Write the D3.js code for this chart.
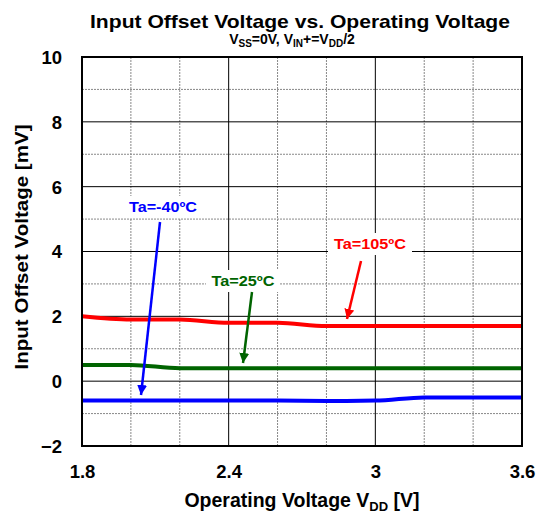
<!DOCTYPE html>
<html><head><meta charset="utf-8">
<script src="https://cdn.jsdelivr.net/npm/d3@7"></script>
<style>body{margin:0;background:#fff}text{font-family:"Liberation Sans",Arial,sans-serif;font-weight:bold}</style>
</head><body><svg id="c" width="539" height="513"></svg>
<script>
const vdd = [1.8, 2.0, 2.2, 2.4, 2.6, 2.8, 3.0, 3.2, 3.4, 3.6];
const ta105 = [2.0, 1.9, 1.9, 1.8, 1.8, 1.7, 1.7, 1.7, 1.7, 1.7];
const ta25 = [0.5, 0.5, 0.4, 0.4, 0.4, 0.4, 0.4, 0.4, 0.4, 0.4];
const taM40 = [-0.6, -0.6, -0.6, -0.6, -0.6, -0.61, -0.6, -0.5, -0.5, -0.5];
const xTicks = [1.8, 2.4, 3.0, 3.6];
const xTickLabels = ["1.8", "2.4", "3", "3.6"];
const xMinor = [2.0, 2.2, 2.6, 2.8, 3.2, 3.4];
const yTicks = [-2, 0, 2, 4, 6, 8, 10];
const yMinor = [-1, 1, 3, 5, 7, 9];

const svg = d3.select("#c");
const L = 82, R = 522, T = 57, B = 446;
const x = d3.scaleLinear().domain([1.8, 3.6]).range([L, R]);
const y = d3.scaleLinear().domain([-2, 10]).range([B, T]);

// minor grid
svg.append("g").selectAll("line").data(yMinor).join("line")
  .attr("x1", L).attr("x2", R).attr("y1", d => y(d)).attr("y2", d => y(d))
  .attr("stroke", "#888").attr("stroke-width", 1).attr("stroke-dasharray", "2,1");
svg.append("g").selectAll("line").data(xMinor).join("line")
  .attr("y1", T).attr("y2", B).attr("x1", d => x(d)).attr("x2", d => x(d))
  .attr("stroke", "#888").attr("stroke-width", 1).attr("stroke-dasharray", "2,1");
// major grid
svg.append("g").selectAll("line").data(yTicks).join("line")
  .attr("x1", L).attr("x2", R).attr("y1", d => y(d)).attr("y2", d => y(d))
  .attr("stroke", "#000").attr("stroke-width", 1);
svg.append("g").selectAll("line").data(xTicks).join("line")
  .attr("y1", T).attr("y2", B).attr("x1", d => x(d)).attr("x2", d => x(d))
  .attr("stroke", "#000").attr("stroke-width", 1);

// axes labels
const yAxis = d3.axisLeft(y).tickValues(yTicks).tickSize(0).tickPadding(20);
const gy = svg.append("g").attr("transform", `translate(${L},0)`).call(yAxis);
gy.select(".domain").remove();
gy.selectAll("text").attr("font-size", 18.5).attr("fill", "#000").attr("dy", "0.35em");
const xAxis = d3.axisBottom(x).tickValues(xTicks).tickSize(0).tickPadding(19)
  .tickFormat((d, i) => xTickLabels[i]);
const gx = svg.append("g").attr("transform", `translate(0,${B})`).call(xAxis);
gx.select(".domain").remove();
gx.selectAll("text").attr("font-size", 18.5).attr("fill", "#000").attr("dy", "0.7em");

// series
const line = d3.line().x((d, i) => x(vdd[i])).y(d => y(d)).curve(d3.curveMonotoneX);
[[ta105, "#ff0000"], [ta25, "#006400"], [taM40, "#0000ff"]].forEach(([s, c]) => {
  svg.append("path").attr("d", line(s)).attr("fill", "none").attr("stroke", c)
    .attr("stroke-width", 4);
});

// frame
svg.append("rect").attr("x", L).attr("y", T).attr("width", R - L).attr("height", B - T)
  .attr("fill", "none").attr("stroke", "#000").attr("stroke-width", 2);

// annotations
const defs = svg.append("defs");
function marker(id, c) {
  defs.append("marker").attr("id", id).attr("viewBox", "0 0 10 10").attr("refX", 10).attr("refY", 5)
    .attr("markerWidth", 4).attr("markerHeight", 4).attr("orient", "auto")
    .append("path").attr("d", "M0,0L10,5L0,10z").attr("fill", c);
}
const ann = [
  {t: "Ta=-40ºC", c: "#0000ff", tx: 163, ty: 212, w: 80, len: 68, x1: 160, y1: 222, x2: 141, y2: 395},
  {t: "Ta=25ºC", c: "#006400", tx: 243, ty: 286, w: 74, len: 63, x1: 252, y1: 292, x2: 243, y2: 363},
  {t: "Ta=105ºC", c: "#ff0000", tx: 370, ty: 249, w: 84, len: 72, x1: 361, y1: 261, x2: 347, y2: 319}
];
ann.forEach((a, i) => {
  marker("m" + i, a.c);
  svg.append("rect").attr("x", a.tx - a.w / 2).attr("y", a.ty - 16).attr("width", a.w).attr("height", 22).attr("fill", "#fff");
  svg.append("text").attr("x", a.tx).attr("y", a.ty).attr("text-anchor", "middle")
    .attr("font-size", 14.5).attr("fill", a.c).attr("textLength", a.len)
    .attr("lengthAdjust", "spacingAndGlyphs").text(a.t);
  svg.append("line").attr("x1", a.x1).attr("y1", a.y1).attr("x2", a.x2).attr("y2", a.y2)
    .attr("stroke", a.c).attr("stroke-width", 2.5).attr("marker-end", `url(#m${i})`);
});

// titles
svg.append("text").attr("x", 300).attr("y", 28).attr("text-anchor", "middle").attr("font-size", 19)
  .attr("textLength", 420).attr("lengthAdjust", "spacingAndGlyphs")
  .text("Input Offset Voltage vs. Operating Voltage");
const st = svg.append("text").attr("x", 292).attr("y", 44).attr("text-anchor", "middle").attr("font-size", 14);
st.append("tspan").text("V");
st.append("tspan").attr("font-size", 10).attr("dy", 3).text("SS");
st.append("tspan").attr("dy", -3).text("=0V, V");
st.append("tspan").attr("font-size", 10).attr("dy", 3).text("IN");
st.append("tspan").attr("dy", -3).text("+=V");
st.append("tspan").attr("font-size", 10).attr("dy", 3).text("DD");
st.append("tspan").attr("dy", -3).text("/2");

const xt = svg.append("text").attr("x", 302).attr("y", 507).attr("text-anchor", "middle").attr("font-size", 19.5);
xt.append("tspan").text("Operating Voltage V");
xt.append("tspan").attr("font-size", 13).attr("dy", 4).text("DD");
xt.append("tspan").attr("dy", -4).text(" [V]");

svg.append("text").attr("transform", "translate(28,247) rotate(-90)").attr("text-anchor", "middle")
  .attr("font-size", 18.5).attr("textLength", 245).attr("lengthAdjust", "spacingAndGlyphs")
  .text("Input Offset Voltage [mV]");
</script></body></html>
